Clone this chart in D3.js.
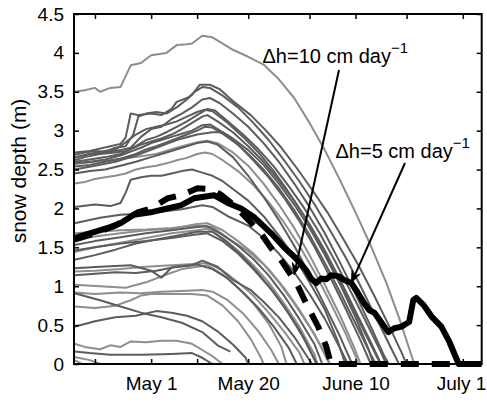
<!DOCTYPE html>
<html>
<head>
<meta charset="utf-8">
<script src="https://cdn.jsdelivr.net/npm/d3@7"></script>
<style>
  html, body { margin: 0; padding: 0; background: #fff; }
  svg { display: block; font-family: "Liberation Sans", Arial, Helvetica, sans-serif; }
</style>
</head>
<body>
<svg id="chart" width="487" height="403"></svg>
<script>
// Snow depth tracks: [day of year 2001, depth in m]
const darkTracks = [
  [[106,2.72],[109,2.74],[113,2.80],[115,2.83],[116,2.91],[117,3.22],[118.5,3.20],[121,3.22],[123,3.20],[125,3.28],[126,3.37],[128,3.42],[129,3.46],[130.5,3.59],[132.5,3.59],[134.5,3.53],[137,3.38],[140.5,3.20],[143.5,3.00],[146.5,2.78],[149.5,2.52],[152.5,2.24],[155.5,1.95],[158.5,1.62],[161.5,1.28],[164.5,0.90],[167.5,0.50],[170,0.15],[171,0]],
  [[106,2.69],[108,2.72],[110,2.74],[112,2.73],[114,2.78],[116,2.80],[117.5,2.95],[118.5,3.18],[120,3.22],[122,3.24],[124,3.22],[126,3.30],[128,3.40],[129.5,3.50],[131,3.56],[132.5,3.55],[135,3.45],[138,3.30],[141,3.10],[144,2.88],[147,2.62],[150,2.35],[153,2.05],[156,1.72],[159,1.38],[162,1.00],[165,0.60],[168,0.20],[169.5,0]],
  [[106,2.66],[109,2.70],[112,2.72],[115,2.75],[117,2.78],[119,2.92],[121,3.02],[123,3.05],[125,3.15],[127,3.22],[129,3.30],[131,3.40],[132.5,3.42],[134.5,3.35],[137,3.22],[140,3.05],[143,2.84],[146,2.60],[149,2.32],[152,2.02],[155,1.68],[158,1.30],[161,0.90],[164,0.48],[166.5,0.12],[167.5,0]],
  [[106,2.65],[109,2.70],[112,2.74],[114,2.76],[116,2.85],[118,2.95],[120,3.02],[122,3.05],[124,3.08],[126,3.12],[128,3.18],[130,3.24],[131.5,3.27],[133,3.25],[136,3.10],[139,2.92],[142,2.72],[145,2.48],[148,2.20],[151,1.90],[154,1.55],[157,1.18],[160,0.78],[163,0.38],[165.5,0.05],[166,0]],
  [[106,2.62],[108,2.66],[111,2.70],[114,2.72],[116,2.74],[118,2.80],[120,2.88],[122,2.92],[124,2.98],[126,3.05],[128,3.12],[130,3.20],[132,3.28],[133.5,3.26],[136,3.12],[139,2.95],[142,2.76],[145,2.54],[148,2.28],[151,2.00],[154,1.68],[157,1.32],[160,0.94],[163,0.55],[166,0.15],[167,0]],
  [[106,2.60],[109,2.63],[112,2.66],[115,2.70],[117,2.76],[119,2.82],[121,2.86],[123,2.90],[125,2.95],[127,3.02],[129,3.10],[131,3.18],[132,3.20],[134,3.12],[137,2.98],[140,2.80],[143,2.60],[146,2.36],[149,2.10],[152,1.80],[155,1.46],[158,1.08],[161,0.68],[164,0.28],[166,0]],
  [[106,2.58],[109,2.60],[112,2.63],[115,2.68],[117,2.73],[119,2.78],[121,2.84],[123,2.88],[125,2.92],[127,2.96],[129,3.00],[131,3.07],[132.5,3.08],[134.5,3.00],[137,2.88],[140,2.70],[143,2.50],[146,2.26],[149,1.98],[152,1.66],[155,1.30],[158,0.92],[161,0.52],[164,0.12],[165,0]],
  [[106,2.54],[109,2.56],[112,2.60],[115,2.64],[118,2.70],[120,2.76],[122,2.80],[124,2.85],[126,2.90],[128,2.95],[130,3.00],[131.5,3.05],[133,3.04],[135,2.96],[138,2.82],[141,2.62],[144,2.40],[147,2.14],[150,1.84],[153,1.50],[156,1.12],[159,0.72],[162,0.30],[164,0]],
  [[106,2.50],[110,2.55],[114,2.60],[118,2.68],[122,2.78],[126,2.88],[130,2.95],[133,2.98],[135,2.98],[137,2.90],[140,2.75],[143,2.56],[146,2.32],[149,2.05],[152,1.75],[155,1.40],[158,1.02],[161,0.60],[163.5,0.20],[164.5,0]],
  [[106,2.45],[109,2.48],[112,2.50],[115,2.55],[118,2.60],[121,2.66],[124,2.72],[127,2.78],[130,2.84],[132,2.86],[134,2.82],[137,2.66],[140,2.42],[143,2.15],[146,1.85],[149,1.52],[152,1.15],[155,0.75],[158,0.35],[160,0.05],[160.5,0]],
  [[106,2.02],[110,2.05],[113,2.03],[115,2.07],[116,2.20],[117,2.37],[119,2.40],[121,2.42],[123,2.42],[125,2.45],[127,2.48],[129,2.50],[131,2.46],[133,2.42],[135,2.35],[137,2.25],[140,2.10],[143,1.90],[146,1.65],[149,1.38],[152,1.05],[155,0.70],[157.5,0.30],[159,0]],
  [[106,1.81],[111,1.88],[115,1.92],[121,1.94],[127,1.99],[131,2.04],[133,2.02],[136,1.90],[140,1.78],[143,1.62],[146,1.42],[149,1.18],[152,0.90],[155,0.58],[158,0.20],[159.5,0]],
  [[106,1.53],[110,1.58],[115,1.63],[120,1.68],[125,1.72],[130,1.76],[132,1.77],[135,1.66],[138,1.52],[141,1.35],[144,1.14],[147,0.88],[150,0.58],[153,0.25],[154.5,0]],
  [[106,1.46],[110,1.50],[115,1.55],[120,1.58],[125,1.62],[129,1.66],[132,1.68],[135,1.58],[138,1.42],[141,1.22],[144,1.00],[147,0.74],[150,0.44],[152.5,0.12],[153.5,0]],
  [[106,1.34],[110,1.40],[114,1.47],[118,1.55],[122,1.60],[126,1.65],[130,1.70],[133,1.70],[136,1.56],[139,1.38],[142,1.16],[145,0.92],[148,0.64],[151,0.32],[153,0.05],[153.3,0]],
  [[106,1.23],[111,1.25],[117,1.27],[121,1.20],[123,1.11],[125,1.24],[129,1.27],[131,1.33],[134,1.25],[137,1.08],[140.5,0.95],[143,0.80],[146,0.60],[149,0.35],[151.5,0.10],[152.5,0]],
  [[106,1.14],[110,1.16],[114,1.18],[118,1.17],[122,1.20],[126,1.25],[130,1.28],[133,1.22],[136,1.10],[139,0.92],[142,0.72],[145,0.48],[148,0.20],[149.5,0]],
  [[106,0.91],[111,0.82],[115,0.74],[119,0.66],[123,0.60],[127,0.53],[131,0.41],[134,0.24],[136.5,0.16]],
  [[106,0.48],[110,0.55],[114,0.60],[118,0.62],[122,0.68],[125,0.66],[128,0.62],[131,0.55],[134,0.42],[137,0.25],[139.5,0.08],[140,0]],
  [[106,0.16],[109,0.14],[113,0.12],[119,0.12],[125,0.13],[129,0.14],[131,0.08],[133,0]]
];

const lightTracks = [
  [[106,3.50],[108,3.52],[110,3.55],[111,3.50],[113,3.55],[115,3.56],[117,3.84],[119,3.87],[121,3.97],[123,3.99],[124,4.00],[126,4.10],[128,4.11],[129,4.12],[131,4.22],[133,4.20],[135,4.12],[137,4.04],[140,3.95],[143,3.85],[146,3.66],[149,3.42],[152,3.10],[155,2.75],[158,2.36],[161,1.95],[164,1.52],[167,1.05],[169.5,0.60],[171.5,0.20],[172.5,0]],
  [[106,2.57],[110,2.60],[114,2.63],[118,2.66],[122,2.70],[126,2.78],[130,2.85],[132,2.87],[134,2.84],[137,2.72],[140,2.55],[143,2.32],[146,2.05],[149,1.75],[152,1.40],[155,1.02],[158,0.62],[160.5,0.25],[162,0]],
  [[106,2.32],[108,2.34],[110,2.38],[112,2.40],[114,2.42],[116,2.45],[118,2.50],[120,2.53],[122,2.55],[124,2.58],[126,2.62],[128,2.65],[130,2.70],[131.5,2.72],[133,2.70],[135,2.62],[138,2.48],[141,2.30],[144,2.08],[147,1.82],[150,1.52],[153,1.18],[156,0.80],[159,0.40],[161,0.10],[161.5,0]],
  [[106,1.68],[110,1.70],[115,1.72],[120,1.73],[125,1.75],[130,1.78],[133,1.76],[136,1.62],[140,1.45],[143,1.28],[146,1.05],[149,0.78],[152,0.48],[155,0.15],[156,0]],
  [[106,1.60],[110,1.64],[115,1.68],[120,1.72],[125,1.74],[130,1.80],[132,1.81],[135,1.72],[138,1.58],[141,1.42],[144,1.22],[147,0.98],[150,0.70],[153,0.38],[155.5,0.05],[156,0]],
  [[106,1.44],[110,1.50],[115,1.56],[120,1.62],[125,1.68],[130,1.72],[132,1.74],[135,1.62],[138,1.46],[141,1.27],[144,1.05],[147,0.78],[150,0.48],[153,0.12],[153.5,0]],
  [[106,1.19],[110,1.20],[115,1.22],[120,1.25],[125,1.27],[130,1.29],[132,1.30],[135,1.20],[138,1.05],[141,0.88],[144,0.66],[147,0.42],[150,0.15],[151,0]],
  [[106,1.02],[111,1.00],[116,0.98],[120,1.05],[124,1.15],[127,1.22],[130,1.25],[132,1.27],[135,1.15],[138,0.98],[141,0.78],[144,0.52],[146.5,0.22],[147.5,0]],
  [[106,0.92],[110,0.90],[115,0.92],[119,0.91],[123,0.93],[127,0.94],[131,0.95],[133,0.93],[136,0.82],[139,0.65],[142,0.42],[144.5,0.18],[146,0]],
  [[106,0.74],[110,0.72],[114,0.75],[117,0.82],[119,0.88],[121,0.90],[125,0.90],[129,0.90],[132,0.88],[135,0.75],[138,0.55],[140.5,0.32],[142.5,0.08],[143,0]],
  [[106,0.26],[108,0.22],[111,0.19],[113,0.24],[115,0.22],[117,0.29],[120,0.28],[123,0.30],[126,0.30],[129,0.26],[131,0.18],[133,0.10],[135,0]],
  [[106,0.09],[109,0.05],[111,0]],
  [[106,0.05],[107.5,0]]
];

// Modelled depth with 5 cm/day melt (solid) and 10 cm/day melt (dashed)
const melt5 = [[106,1.62],[108,1.66],[111.1,1.72],[113,1.76],[115,1.81],[117.6,1.92],[120.9,1.95],[124.2,2.00],[126.8,2.04],[129.4,2.13],[133.3,2.17],[136,2.07],[138.6,2.00],[141.1,1.89],[144.5,1.68],[147,1.50],[149,1.38],[150,1.31],[151.3,1.21],[152.3,1.10],[153.3,1.04],[154.3,1.10],[155.3,1.09],[156.2,1.14],[157.6,1.13],[158.8,1.08],[160.2,1.04],[161.5,0.91],[162.7,0.78],[163.7,0.69],[164.7,0.66],[166,0.54],[167.4,0.41],[168.6,0.46],[170,0.48],[171,0.52],[171.5,0.54],[172.3,0.82],[172.9,0.85],[174.3,0.76],[175.9,0.61],[177.8,0.48],[179.4,0.28],[181.2,0],[185.7,0]];
const melt10 = [[106,1.60],[110,1.68],[114,1.78],[118.4,1.95],[121,2.00],[124.2,2.13],[126.8,2.17],[130.1,2.26],[132.7,2.25],[134.6,2.18],[137.6,2.02],[140.5,1.82],[142.9,1.64],[144.5,1.49],[146.4,1.34],[148.8,1.10],[149.8,0.99],[151.7,0.73],[153.7,0.48],[155.3,0.22],[156.2,0],[185.7,0]];

// Axis ticks
const xTickDays = [110, 121, 130, 140, 152, 161, 171, 182];
const xTickLabels = ["", "May 1", "", "May 20", "", "June 10", "", "July 1"];
const yTicks = [0, 0.5, 1, 1.5, 2, 2.5, 3, 3.5, 4, 4.5];
const yTickLabels = ["0", "0.5", "1", "1.5", "2", "2.5", "3", "3.5", "4", "4.5"];

// Annotations: label, exponent, and the point on the curve the arrow meets
const noteLabels = ["\u0394h=10 cm day", "\u0394h=5 cm day"];
const noteExponent = "\u22121";
const noteTargets = [[148.97, 1.144], [160.16, 1.04]];

const day0 = Date.UTC(2001, 0, 1);
const dayToDate = d => new Date(day0 + (d - 1) * 864e5);

const svg = d3.select("#chart");
const m = { left: 74, top: 14, right: 5.3, bottom: 39 };
const W = 487, H = 403;
const iw = W - m.left - m.right, ih = H - m.top - m.bottom;

const x = d3.scaleUtc().domain([dayToDate(105.9), dayToDate(185.7)]).range([m.left, m.left + iw]);
const y = d3.scaleLinear().domain([0, 4.5]).range([m.top + ih, m.top]);

const line = d3.line().x(d => x(dayToDate(d[0]))).y(d => y(d[1]));

const plot = svg.append("g");

plot.selectAll("path.light").data(lightTracks).join("path")
  .attr("class", "light").attr("d", line)
  .attr("fill", "none").attr("stroke", "#8e8e8e").attr("stroke-width", 2)
  .attr("stroke-linejoin", "round");

plot.selectAll("path.dark").data(darkTracks).join("path")
  .attr("class", "dark").attr("d", line)
  .attr("fill", "none").attr("stroke", "#5c5c5c").attr("stroke-width", 2)
  .attr("stroke-linejoin", "round");

plot.append("path").datum(melt10).attr("d", line)
  .attr("fill", "none").attr("stroke", "#000").attr("stroke-width", 6)
  .attr("stroke-dasharray", "18,13");

plot.append("path").datum(melt5).attr("d", line)
  .attr("fill", "none").attr("stroke", "#000").attr("stroke-width", 6)
  .attr("stroke-linejoin", "round");

// Axes box with inward ticks on all four sides
const tickDates = xTickDays.map(dayToDate);
const tickLen = 5;

const xb = d3.axisBottom(x).tickValues(tickDates).tickSize(-tickLen).tickPadding(13)
  .tickFormat((d, i) => xTickLabels[i]);
const xt = d3.axisTop(x).tickValues(tickDates).tickSize(-tickLen).tickFormat("");
const yl = d3.axisLeft(y).tickValues(yTicks).tickSize(-tickLen).tickPadding(10)
  .tickFormat((d, i) => yTickLabels[i]);
const yr = d3.axisRight(y).tickValues(yTicks).tickSize(-tickLen).tickFormat("");

function styleAxis(g) {
  g.select(".domain").remove();
  g.selectAll(".tick line").attr("stroke", "#000").attr("stroke-width", 1.5);
  g.selectAll("text").attr("fill", "#000").attr("font-size", 19)
    .attr("font-family", "\"Liberation Sans\", Arial, Helvetica, sans-serif");
}

const xAxisG = svg.append("g").attr("transform", `translate(0,${m.top + ih})`).call(xb).call(styleAxis);
// keep the last date label inside the frame
xAxisG.selectAll(".tick:last-of-type text").attr("text-anchor", "end").attr("dx", 23);
svg.append("g").attr("transform", `translate(0,${m.top})`).call(xt).call(styleAxis);
svg.append("g").attr("transform", `translate(${m.left},0)`).call(yl).call(styleAxis);
svg.append("g").attr("transform", `translate(${m.left + iw},0)`).call(yr).call(styleAxis);

svg.append("rect")
  .attr("x", m.left).attr("y", m.top).attr("width", iw).attr("height", ih)
  .attr("fill", "none").attr("stroke", "#000").attr("stroke-width", 2);

// y label
svg.append("text")
  .attr("transform", `translate(26,${171}) rotate(-90)`)
  .attr("text-anchor", "middle")
  .attr("font-size", 21)
  .text("snow depth (m)");

// Annotations with arrows
const noteAnchors = [[262.5, 63], [335.5, 158]];
const tails = [[339, 70], [405, 163]];

noteLabels.forEach((lab, i) => {
  const t = svg.append("text")
    .attr("x", noteAnchors[i][0]).attr("y", noteAnchors[i][1])
    .attr("font-size", 20);
  t.append("tspan").text(lab);
  t.append("tspan").attr("dy", -10).attr("font-size", 15).text(noteExponent);

  const tip = [x(dayToDate(noteTargets[i][0])), y(noteTargets[i][1])];
  const tail = tails[i];
  const dx = tip[0] - tail[0], dy = tip[1] - tail[1];
  const len = Math.hypot(dx, dy);
  const ux = dx / len, uy = dy / len, nx = -uy, ny = ux;
  const hl = 12, hw = 4.5, notch = 4;
  svg.append("line")
    .attr("x1", tail[0]).attr("y1", tail[1])
    .attr("x2", tip[0] - ux * (hl - notch)).attr("y2", tip[1] - uy * (hl - notch))
    .attr("stroke", "#000").attr("stroke-width", 2);
  const head = [
    [tip[0], tip[1]],
    [tip[0] - ux * hl + nx * hw, tip[1] - uy * hl + ny * hw],
    [tip[0] - ux * (hl - notch), tip[1] - uy * (hl - notch)],
    [tip[0] - ux * hl - nx * hw, tip[1] - uy * hl - ny * hw]
  ];
  svg.append("path").attr("d", "M" + head.map(p => p.join(",")).join("L") + "Z")
    .attr("fill", "#000").attr("stroke", "#000").attr("stroke-width", 0.8);
});
</script>
</body>
</html>
